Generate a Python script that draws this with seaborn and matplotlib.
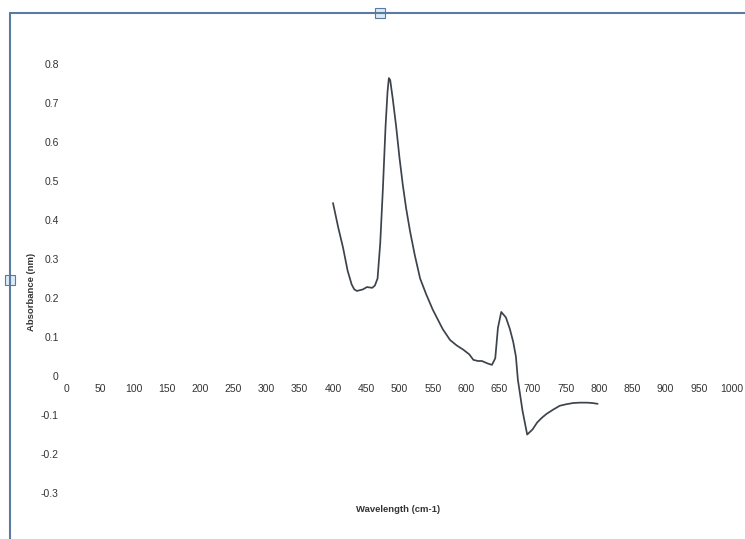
import matplotlib
matplotlib.use("Agg")
import matplotlib.pyplot as plt
import seaborn as sns
import pandas as pd
from matplotlib.patches import Rectangle
from matplotlib.lines import Line2D

wavelength = [400, 408, 415, 422, 428, 432, 436, 445, 451, 459, 463, 467, 471, 475,
              479, 482, 484, 486, 490, 495, 500, 505, 510, 516, 523, 531, 540, 550,
              565, 576, 586, 596, 605, 611, 618, 624, 632, 639, 644, 648, 653, 660,
              666, 671, 675, 678, 685, 692, 700, 707, 714, 721, 731, 741, 751, 761,
              771, 782, 790, 798]
absorbance = [0.444, 0.38, 0.33, 0.27, 0.235, 0.222, 0.218, 0.222, 0.228, 0.226, 0.232, 0.25, 0.34, 0.48,
              0.64, 0.73, 0.765, 0.76, 0.71, 0.64, 0.56, 0.49, 0.43, 0.37, 0.31, 0.25, 0.21, 0.17,
              0.12, 0.092, 0.078, 0.067, 0.055, 0.041, 0.038, 0.038, 0.032, 0.028, 0.045, 0.123, 0.164, 0.15,
              0.12, 0.087, 0.05, -0.01, -0.09, -0.151, -0.138, -0.12, -0.108, -0.098, -0.087, -0.077, -0.073, -0.07,
              -0.069, -0.069, -0.07, -0.072]

x_ticks = list(range(0, 1001, 50))
y_ticks = [-0.3, -0.2, -0.1, 0, 0.1, 0.2, 0.3, 0.4, 0.5, 0.6, 0.7, 0.8]
y_tick_labels = ["-0.3", "-0.2", "-0.1", "0", "0.1", "0.2", "0.3", "0.4", "0.5", "0.6", "0.7", "0.8"]

sns.set_theme(style="white")
plt.rcParams['font.family'] = ['Liberation Sans', 'DejaVu Sans']

W, H = 745, 539
fig = plt.figure(figsize=(W / 100, H / 100), dpi=100)
fig.patch.set_facecolor("white")
left, right = 67 / W, 732 / W
bottom, top = 1 - 512 / H, 1 - 45 / H
ax = fig.add_axes([left, bottom, right - left, top - bottom])
ax.set_facecolor("white")

df = pd.DataFrame({"Wavelength": wavelength, "Absorbance": absorbance})
sns.lineplot(data=df, x="Wavelength", y="Absorbance", ax=ax, color="#3d424b",
             linewidth=1.25, sort=False)

ax.set_xlim(0, 1000)
ax.set_ylim(-0.35, 0.85)
for s in ["top", "right", "left", "bottom"]:
    ax.spines[s].set_visible(False)
ax.set_xticks(x_ticks)
ax.set_xticklabels([str(v) for v in x_ticks])
ax.set_yticks(y_ticks)
ax.set_yticklabels(y_tick_labels)
ax.tick_params(axis="x", length=0, pad=0, labelsize=7.5, colors="#333333")
for lbl in ax.get_xticklabels():
    lbl.set_y(0.3 - 0.0)
ax.tick_params(axis="y", length=0, pad=6, labelsize=7.5, colors="#333333")
ax.set_xlabel("")
ax.set_ylabel("")
ax.grid(False)

# x tick labels sit just below the zero line
ax.spines["bottom"].set_position(("data", 0))
ax.tick_params(axis="x", pad=6)

fig.text(398 / W, 1 - 509 / H, "Wavelength (cm-1)", ha="center", va="center",
         fontsize=6.8, fontweight="bold", color="#333333")
fig.text(31 / W, 1 - 292 / H, "Absorbance (nm)", ha="center", va="center",
         rotation=90, fontsize=6.8, fontweight="bold", color="#333333")

# selection frame
frame_color = "#5a7aa0"
fig.add_artist(Line2D([10 / W, 1.0], [1 - 13 / H, 1 - 13 / H], color=frame_color, lw=1.5,
                      transform=fig.transFigure))
fig.add_artist(Line2D([10 / W, 10 / W], [1 - 13 / H, 0], color=frame_color, lw=1.5,
                      transform=fig.transFigure))
fig.add_artist(Rectangle((375 / W, 1 - 18 / H), 10 / W, 10 / H, transform=fig.transFigure,
                         facecolor="#dcecf6", edgecolor=frame_color, lw=0.8))
fig.add_artist(Rectangle((5 / W, 1 - 285 / H), 10 / W, 10 / H, transform=fig.transFigure,
                         facecolor="#dcecf6", edgecolor=frame_color, lw=0.8))

fig.savefig("out.png", dpi=100, facecolor="white")
